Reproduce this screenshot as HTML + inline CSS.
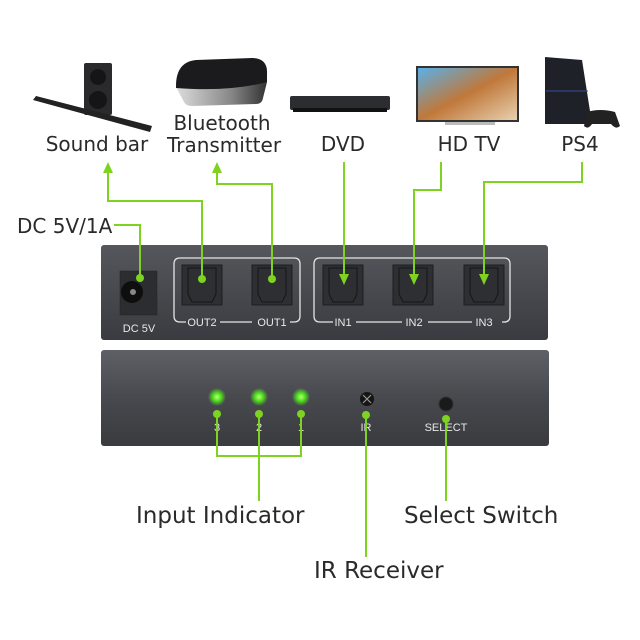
<!DOCTYPE html>
<html><head><style>
html,body{margin:0;padding:0;background:#fff;}
svg{display:block}
text{font-family:"Liberation Sans",sans-serif}
.lab{font-family:"DejaVu Sans","Liberation Sans",sans-serif;font-size:20px;fill:#2a2a2a}
.sm{font-size:11px;fill:#e8e8e8}
</style></head><body>
<svg width="640" height="640" viewBox="0 0 640 640" xmlns="http://www.w3.org/2000/svg">
<defs>
<linearGradient id="pan" x1="0" y1="0" x2="0" y2="1"><stop offset="0" stop-color="#55575c"/><stop offset="1" stop-color="#3a3b40"/></linearGradient>
<linearGradient id="pan2" x1="0" y1="0" x2="0" y2="1"><stop offset="0" stop-color="#5e6066"/><stop offset="0.5" stop-color="#47494e"/><stop offset="1" stop-color="#3a3b3f"/></linearGradient>
<radialGradient id="led"><stop offset="0" stop-color="#b8ff7a"/><stop offset="0.45" stop-color="#4ee01c"/><stop offset="1" stop-color="#4ee01c" stop-opacity="0"/></radialGradient>
<linearGradient id="tv" x1="0" y1="0" x2="1" y2="1"><stop offset="0" stop-color="#5ab0e8"/><stop offset="0.5" stop-color="#c0783a"/><stop offset="1" stop-color="#e8d0b0"/></linearGradient>
<linearGradient id="sil" x1="0" y1="0" x2="1" y2="0"><stop offset="0" stop-color="#ddd"/><stop offset="0.6" stop-color="#888"/><stop offset="1" stop-color="#333"/></linearGradient>
</defs>

<!-- devices -->
<rect x="84" y="63" width="28" height="52" rx="2" fill="#2a2a2c"/>
<circle cx="98" cy="77" r="8" fill="#151515"/><circle cx="98" cy="100" r="9" fill="#151515"/>
<polygon points="33,100 36,96 152,126 150,132" fill="#222"/>
<path d="M176,87 L184,102 Q186,106 192,106 L256,104 Q262,104 263,98 L267,82 Z" fill="url(#sil)"/>
<path d="M176,86 Q176,62 196,60 L252,58 Q268,58 267,74 L267,82 Q230,92 176,88Z" fill="#1b1b1d"/>
<rect x="290" y="96" width="100" height="14" rx="2" fill="#2b2d31"/>
<rect x="293" y="108" width="94" height="4" fill="#111"/>
<rect x="416" y="66" width="103" height="56" fill="#333"/>
<rect x="418" y="68" width="99" height="52" fill="url(#tv)"/>
<rect x="445" y="122" width="50" height="3" fill="#bbb"/>
<polygon points="545,57 582,60 592,124 545,124" fill="#1e2128"/>
<line x1="546" y1="91" x2="588" y2="91" stroke="#3a4aa0" stroke-width="1"/>
<path d="M587,112 Q600,108 615,112 L620,126 Q616,130 611,124 L592,124 Q588,130 584,126Z" fill="#222"/>

<!-- labels top -->
<text class="lab" x="97" y="151" text-anchor="middle">Sound bar</text>
<text class="lab" x="222" y="130" text-anchor="middle">Bluetooth</text>
<text class="lab" x="224" y="152" text-anchor="middle">Transmitter</text>
<text class="lab" x="343" y="151" text-anchor="middle">DVD</text>
<text class="lab" x="469" y="151" text-anchor="middle">HD TV</text>
<text class="lab" x="580" y="151" text-anchor="middle">PS4</text>
<text class="lab" x="17" y="233">DC 5V/1A</text>

<!-- back panel -->
<rect x="101" y="245" width="447" height="95" rx="3" fill="url(#pan)"/>
<rect x="120" y="271" width="37" height="44" fill="#2c2d30" stroke="#222" stroke-width="0.5"/>
<circle cx="132" cy="292" r="11" fill="#0e0e0e"/><circle cx="133" cy="292" r="3" fill="#888"/>
<text class="sm" x="139" y="332" text-anchor="middle">DC 5V</text>
<g fill="none" stroke="#e5e5e5" stroke-width="1.3">
<path d="M186,322 H180 Q174,322 174,316 V264 Q174,258 180,258 H294 Q300,258 300,264 V316 Q300,322 294,322 H290"/>
<path d="M220,322 H252"/>
<path d="M333,322 H320 Q314,322 314,316 V264 Q314,258 320,258 H504 Q510,258 510,264 V316 Q510,322 504,322 H502"/>
<path d="M356,322 H402 M428,322 H472"/>
</g>
<g fill="#2e2f33" stroke="#1e1e20">
<rect x="182" y="265" width="40" height="40"/><rect x="252" y="265" width="40" height="40"/>
<rect x="323" y="265" width="40" height="40"/><rect x="393" y="265" width="40" height="40"/><rect x="464" y="265" width="40" height="40"/>
</g>
<g fill="none" stroke="#151515">
<path d="M188,268 h28 v26 l-4,8 h-20 l-4,-8z"/><path d="M258,268 h28 v26 l-4,8 h-20 l-4,-8z"/>
<path d="M329,268 h28 v26 l-4,8 h-20 l-4,-8z"/><path d="M399,268 h28 v26 l-4,8 h-20 l-4,-8z"/><path d="M470,268 h28 v26 l-4,8 h-20 l-4,-8z"/>
</g>
<text class="sm" x="202" y="326" text-anchor="middle">OUT2</text>
<text class="sm" x="272" y="326" text-anchor="middle">OUT1</text>
<text class="sm" x="343" y="326" text-anchor="middle">IN1</text>
<text class="sm" x="414" y="326" text-anchor="middle">IN2</text>
<text class="sm" x="484" y="326" text-anchor="middle">IN3</text>

<!-- front panel -->
<rect x="101" y="350" width="448" height="96" rx="3" fill="url(#pan2)"/>
<circle cx="217" cy="397" r="9" fill="url(#led)"/><circle cx="259" cy="397" r="9" fill="url(#led)"/><circle cx="301" cy="397" r="9" fill="url(#led)"/>
<text class="sm" x="217" y="431" text-anchor="middle">3</text>
<text class="sm" x="259" y="431" text-anchor="middle">2</text>
<text class="sm" x="301" y="431" text-anchor="middle">1</text>
<circle cx="367" cy="399" r="7" fill="#151515"/>
<path d="M363,395 l8,8 M371,395 l-8,8" stroke="#999" stroke-width="1.2"/>
<text class="sm" x="366" y="431" text-anchor="middle">IR</text>
<circle cx="446" cy="404" r="7" fill="#1a1a1a" stroke="#333"/>
<text class="sm" x="446" y="431" text-anchor="middle">SELECT</text>

<!-- green connectors -->
<g fill="none" stroke="#7ed321" stroke-width="2">
<path d="M108,172 V201 H202 V279"/>
<path d="M217,172 V184 H272 V279"/>
<path d="M344,162 V276"/>
<path d="M441,162 V190 H414 V276"/>
<path d="M582,162 V182 H484 V276"/>
<path d="M114,225 H140 V278"/>
<path d="M217,414 V456 H301 V414 M259,414 V501"/>
<path d="M366,414 V557"/>
<path d="M446,419 V501"/>
</g>
<g fill="#7ed321">
<polygon points="108,162 103,173 113,173"/><polygon points="217,162 212,173 222,173"/>
<polygon points="344,285 339,274 349,274"/><polygon points="414,285 409,274 419,274"/><polygon points="484,285 479,274 489,274"/>
<circle cx="202" cy="279" r="4"/><circle cx="272" cy="279" r="4"/><circle cx="140" cy="278" r="4"/>
<circle cx="217" cy="414" r="4"/><circle cx="259" cy="414" r="4"/><circle cx="301" cy="414" r="4"/>
<circle cx="366" cy="415" r="4"/><circle cx="446" cy="419" r="4"/>
</g>

<text class="lab" x="136" y="523" style="font-size:23px">Input Indicator</text>
<text class="lab" x="404" y="523" style="font-size:23px">Select Switch</text>
<text class="lab" x="314" y="578" style="font-size:23px">IR Receiver</text>
</svg>
</body></html>
